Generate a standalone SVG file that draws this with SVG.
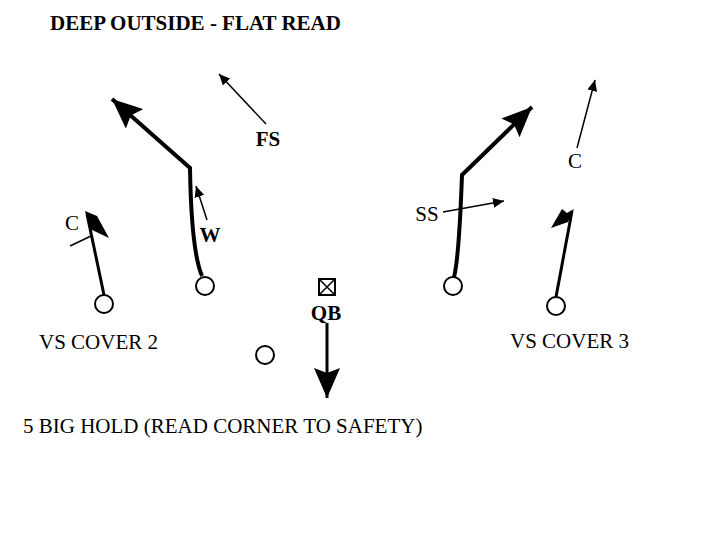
<svg xmlns="http://www.w3.org/2000/svg" width="720" height="540" viewBox="0 0 720 540">
<style>
.t{font-family:"Liberation Serif","Times New Roman",serif;fill:#000;font-size:21px}
.b{font-weight:bold}
.pl{fill:#fff;stroke:#000;stroke-width:2}
.route{fill:none;stroke:#000;stroke-width:4;stroke-linejoin:miter}
.thin{fill:none;stroke:#000;stroke-width:1.5}
.med{fill:none;stroke:#000;stroke-width:3}
</style>
<defs>
<marker id="big" markerUnits="userSpaceOnUse" markerWidth="32" markerHeight="26" refX="30" refY="13" orient="auto" viewBox="0 0 32 26">
<path d="M0,0 L30,13 L0,26 L5,13 Z" fill="#000"/>
</marker>
<marker id="small" markerUnits="userSpaceOnUse" markerWidth="12" markerHeight="10" refX="11" refY="5" orient="auto" viewBox="0 0 12 10">
<path d="M0,0 L11,5 L0,10 Z" fill="#000"/>
</marker>
</defs>
<rect width="720" height="540" fill="#fff"/>
<text class="t b" x="50" y="30">DEEP OUTSIDE - FLAT READ</text>
<g id="connectors">
<path class="route" d="M202,276 C196,262 191,230 190,168 L112,99" marker-end="url(#big)"/>
<path class="route" d="M454,277 C458,262 460,230 462,175 L532,107" marker-end="url(#big)"/>
<path class="med" d="M104,295 L87,214"/>
<path d="M85,211 L97,216 L109,238 L90,229 Z" fill="#000"/>
<path class="med" d="M556,297 L572,211"/>
<path d="M551,228 L562,209 L567,213 L574,209 L568,222 Z" fill="#000"/>
<path class="thin" d="M70,246 L91,236"/>
<path class="med" d="M327,323 L327,398" marker-end="url(#big)"/>
<path class="thin" d="M207,220 L196,186" marker-end="url(#small)"/>
<path class="thin" d="M266,124 L219,74" marker-end="url(#small)"/>
<path class="thin" d="M443,212 L504,201" marker-end="url(#small)"/>
<path class="thin" d="M577,148 L595,80" marker-end="url(#small)"/>
</g>
<g id="LWR"><circle class="pl" cx="104" cy="304" r="9"/></g>
<g id="LSlot"><circle class="pl" cx="205" cy="286" r="9"/></g>
<g id="RB"><circle class="pl" cx="265" cy="355" r="9"/></g>
<g id="RSlot"><circle class="pl" cx="453" cy="286" r="9"/></g>
<g id="RWR"><circle class="pl" cx="556" cy="306" r="9"/></g>
<g id="QB">
<rect x="319" y="279" width="16" height="16" fill="#fff" stroke="#000" stroke-width="2"/>
<path d="M320,280 L334,294 M334,280 L320,294" stroke="#000" stroke-width="1.5"/>
<text class="t b" x="326" y="320" text-anchor="middle">QB</text>
</g>
<g id="defC1"><text class="t" x="65" y="230">C</text></g>
<g id="defW"><text class="t b" x="210" y="242" text-anchor="middle">W</text></g>
<g id="defFS"><text class="t b" x="268" y="146" text-anchor="middle">FS</text></g>
<g id="defSS"><text class="t" x="427" y="221" text-anchor="middle">SS</text></g>
<g id="defC2"><text class="t" x="575" y="168" text-anchor="middle">C</text></g>
<text class="t" x="39" y="349">VS COVER 2</text>
<text class="t" x="510" y="348">VS COVER 3</text>
<text class="t" x="23" y="433">5 BIG HOLD (READ CORNER TO SAFETY)</text>
</svg>
